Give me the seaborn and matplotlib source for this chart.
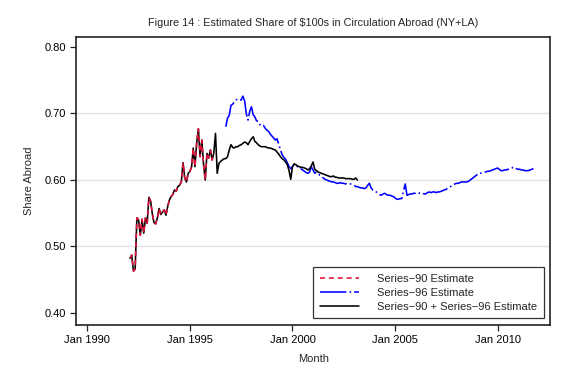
import numpy as np
import pandas as pd
import matplotlib
matplotlib.use("Agg")
import matplotlib.pyplot as plt
import seaborn as sns

# Monthly estimates
combined_start = "1992-02-01"
combined_share = [
    0.482, 0.487, 0.463, 0.466, 0.543, 0.540, 0.517, 0.541, 0.520, 0.543, 0.535,
    0.574, 0.568, 0.550, 0.536, 0.534, 0.543, 0.557, 0.548, 0.552, 0.555, 0.547, 0.560,
    0.570, 0.575, 0.578, 0.585, 0.583, 0.590, 0.592, 0.597, 0.626, 0.603, 0.597, 0.610,
    0.613, 0.620, 0.648, 0.620, 0.655, 0.677, 0.635, 0.660, 0.623, 0.600, 0.640, 0.633,
    0.645, 0.630, 0.640, 0.670, 0.610, 0.625, 0.628, 0.630, 0.632, 0.632, 0.635, 0.645,
    0.653, 0.649, 0.648, 0.650, 0.650, 0.652, 0.653, 0.655, 0.657, 0.656, 0.653, 0.658,
    0.662, 0.665, 0.658, 0.656, 0.653, 0.651, 0.650, 0.650, 0.650, 0.649, 0.648, 0.648,
    0.647, 0.646, 0.645, 0.642, 0.639, 0.635, 0.632, 0.630, 0.627, 0.623, 0.614, 0.601,
    0.620, 0.624, 0.623, 0.621, 0.620, 0.619, 0.619, 0.618, 0.617, 0.615, 0.617, 0.621,
    0.627, 0.616, 0.614, 0.612, 0.611, 0.610, 0.609, 0.608, 0.607, 0.606, 0.605, 0.605,
    0.606, 0.604, 0.604, 0.603, 0.603, 0.603, 0.603, 0.602, 0.602, 0.602, 0.602, 0.601,
    0.601, 0.603, 0.600,
]
# Series-90 coincides with the combined estimate until early 1996
series90_months = 50

series96_start = "1996-10-01"
series96_share = [
    0.680, 0.693, 0.697,
    0.712, 0.714, 0.717, 0.720, 0.722, 0.721, 0.720, 0.726, 0.719, 0.700, 0.690, 0.703,
    0.710, 0.698, 0.695, 0.689, 0.688, 0.683, 0.681, 0.682, 0.678, 0.675, 0.673, 0.669,
    0.666, 0.663, 0.660, 0.662, 0.654, 0.645, 0.638, 0.634, 0.631, 0.626, 0.620, 0.617,
    0.620, 0.624, 0.622, 0.620, 0.619, 0.617, 0.615, 0.613, 0.611, 0.610, 0.612, 0.620,
    0.615, 0.610, 0.612, 0.610, 0.607, 0.605, 0.603, 0.601, 0.600, 0.599, 0.598, 0.597,
    0.597, 0.596, 0.595, 0.595, 0.596, 0.595, 0.595, 0.594, 0.595, 0.594, 0.594, 0.593,
    0.592, 0.590, 0.590, 0.589, 0.588, 0.588, 0.587, 0.588, 0.592, 0.595, 0.588, 0.585,
    0.584, 0.582, 0.580, 0.578, 0.577, 0.579, 0.580, 0.578, 0.577, 0.577, 0.576, 0.575,
    0.573, 0.571, 0.571, 0.572, 0.572, 0.584, 0.594, 0.577, 0.578, 0.579, 0.579, 0.580,
    0.580, 0.581, 0.580, 0.581, 0.580, 0.579, 0.579, 0.581, 0.582, 0.581, 0.582, 0.582,
    0.581, 0.582, 0.582, 0.583, 0.584, 0.585, 0.586, 0.588, 0.589, 0.591, 0.592, 0.594,
    0.595, 0.595, 0.596, 0.597, 0.597, 0.597, 0.597, 0.598, 0.600, 0.602, 0.604, 0.606,
    0.608, 0.610, 0.610, 0.611, 0.611, 0.612, 0.613, 0.613, 0.614, 0.615, 0.616, 0.617,
    0.618, 0.616, 0.614, 0.614, 0.615, 0.615, 0.616, 0.616, 0.617, 0.619, 0.619, 0.617,
    0.616, 0.616, 0.615, 0.615, 0.614, 0.614, 0.614, 0.615, 0.616, 0.617,
]

tick_years = [1990, 1995, 2000, 2005, 2010]
tick_labels = ["Jan 1990", "Jan 1995", "Jan 2000", "Jan 2005", "Jan 2010"]
y_ticks = [0.40, 0.50, 0.60, 0.70, 0.80]

labels = ["Series\u221290 Estimate", "Series\u221296 Estimate",
          "Series\u221290 + Series\u221296 Estimate"]
colors = ["#e0103a", "#0000ff", "#000000"]

# Build frames
df_comb = pd.DataFrame({
    "month": pd.date_range(combined_start, periods=len(combined_share), freq="MS"),
    "share": combined_share,
})
df_90 = df_comb.iloc[:series90_months].copy()
df_96 = pd.DataFrame({
    "month": pd.date_range(series96_start, periods=len(series96_share), freq="MS"),
    "share": series96_share,
})

sns.set_style("white")
plt.rcParams["font.family"] = ["Liberation Sans", "DejaVu Sans"]
plt.rcParams["lines.scale_dashes"] = False

fig = plt.figure(figsize=(5.81, 3.77), dpi=100)
ax = fig.add_axes([0.131, 0.138, 0.816, 0.764])

sns.lineplot(data=df_96, x="month", y="share", color=colors[1], lw=1.15, ax=ax, label=labels[1])
sns.lineplot(data=df_comb, x="month", y="share", color=colors[2], lw=1.15, ax=ax, label=labels[2])
sns.lineplot(data=df_90, x="month", y="share", color=colors[0], lw=1.15, ax=ax, label=labels[0])

l96, lcomb, l90 = ax.lines[0], ax.lines[1], ax.lines[2]
l96.set_dashes((19, 2.2, 1.2, 2.2))
l90.set_dashes((3.6, 2.8))

ax.set_xlim(pd.Timestamp("1989-06-15"), pd.Timestamp("2012-07-25"))
ax.set_ylim(0.382, 0.815)
ax.set_xticks([pd.Timestamp(f"{y}-01-01") for y in tick_years])
ax.set_xticklabels(tick_labels)
ax.set_yticks(y_ticks)
ax.set_yticklabels([f"{v:.2f}" for v in y_ticks])

ax.tick_params(axis="both", which="major", direction="out", length=4, width=0.9,
               labelsize=8, color="#222222", labelcolor="black", pad=3,
               bottom=True, left=True, top=False, right=False)

ax.yaxis.grid(True, color="#e3e3e3", lw=1.0)
gl = ax.yaxis.get_gridlines()
gl[0].set_visible(False)
gl[-1].set_visible(False)
ax.set_axisbelow(True)

for sp in ax.spines.values():
    sp.set_visible(True)
    sp.set_color("#222222")
    sp.set_linewidth(1.2)

ax.set_xlabel("Month", fontsize=8, labelpad=7)
ax.set_ylabel("Share Abroad", fontsize=8, labelpad=8)
ax.set_title("Figure 14 : Estimated Share of \\$100s in Circulation Abroad (NY+LA)",
             fontsize=7.8, pad=8)

leg = ax.legend(handles=[l90, l96, lcomb], labels=labels, loc="lower right",
                fontsize=8, frameon=True, fancybox=False, edgecolor="black",
                handlelength=3.5, handletextpad=1.6, labelspacing=0.35,
                borderaxespad=0.6, borderpad=0.6)
leg.get_frame().set_linewidth(0.9)

fig.savefig("out.png", dpi=100)
